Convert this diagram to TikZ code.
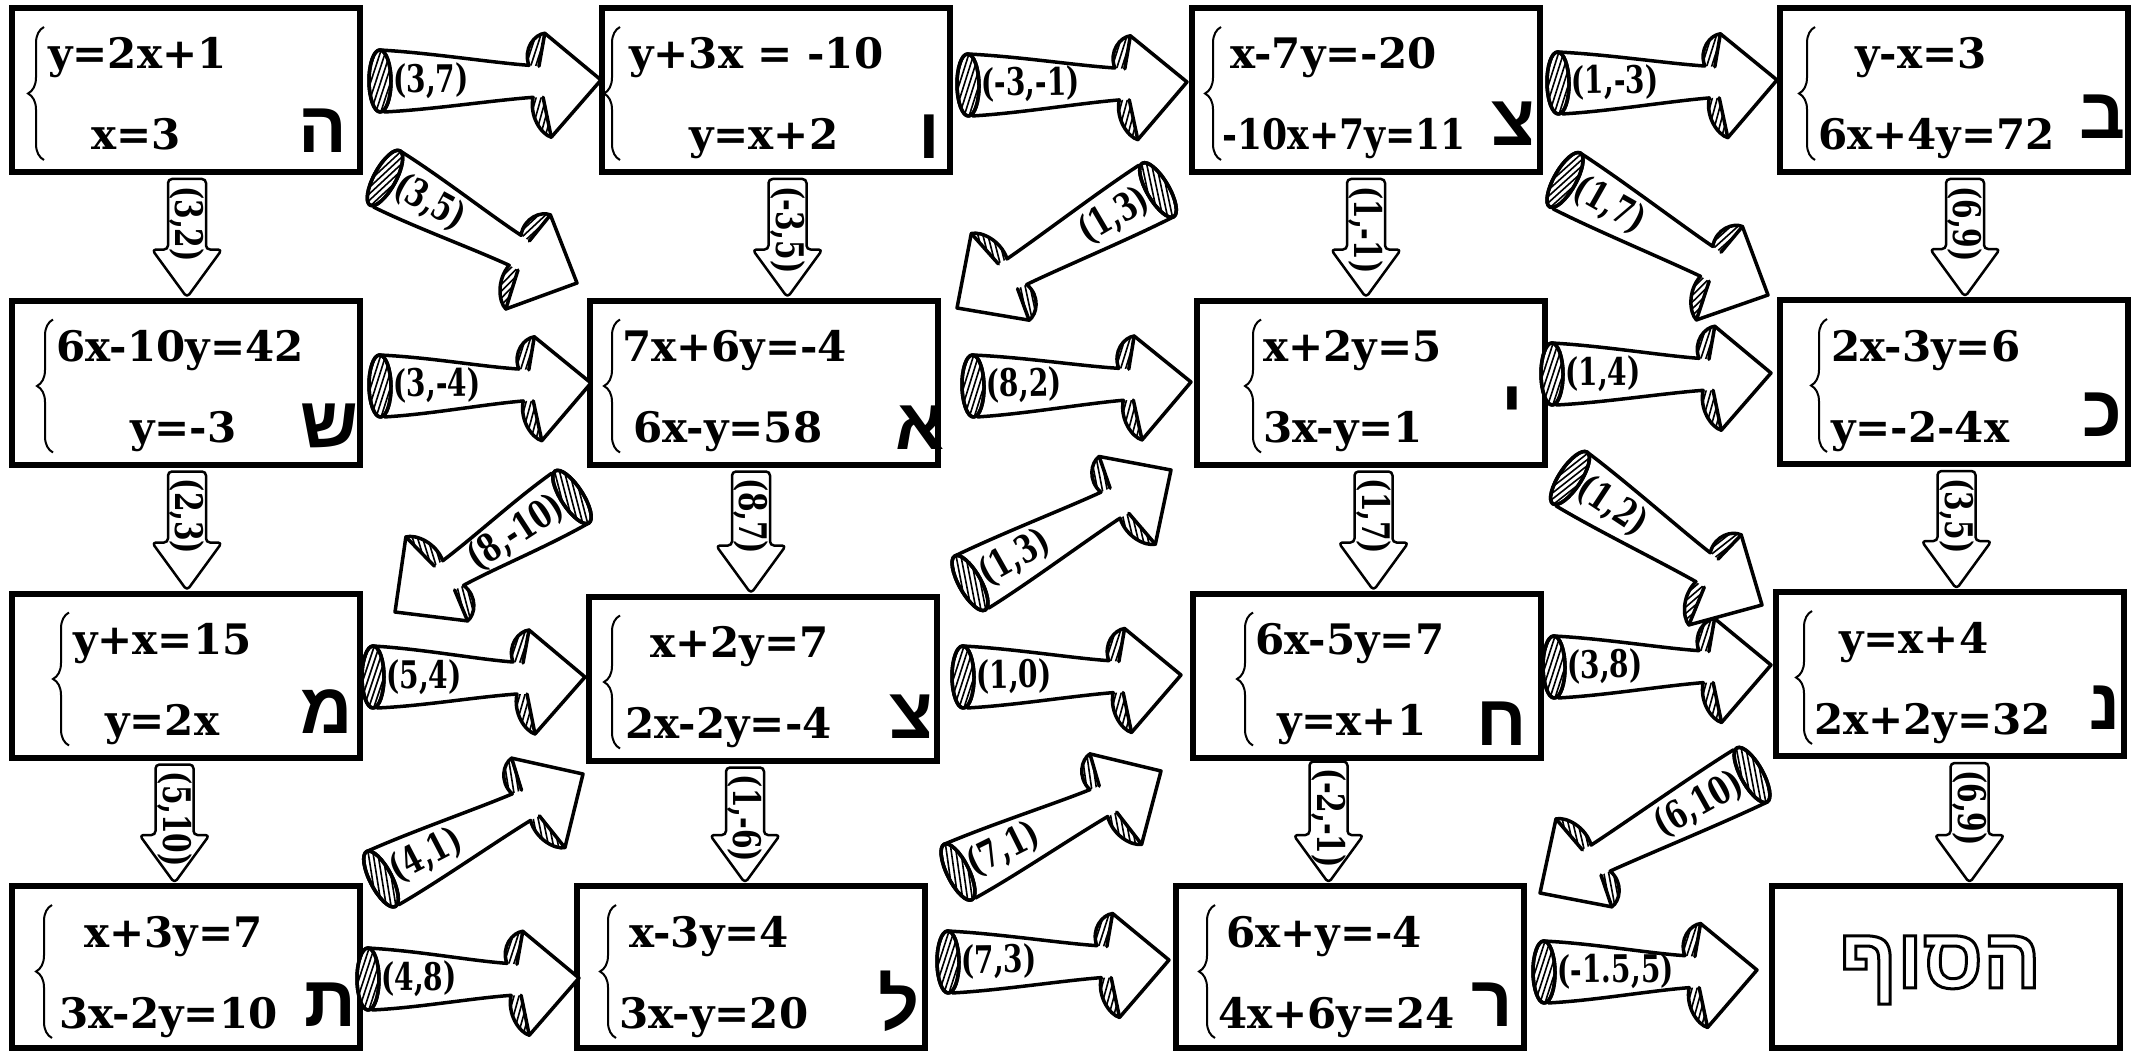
\documentclass[tikz,border=0pt]{standalone}
\usepackage{fontspec}
\setmainfont{DejaVu Serif}
\newfontfamily\hebfont[Script=Hebrew]{Liberation Sans}
\usetikzlibrary{calc,decorations.pathreplacing}
\TeXXeTstate=1
\newcommand\eqf{\fontsize{42}{42}\selectfont\bfseries}
\newcommand\labf{\fontsize{38}{38}\selectfont\bfseries}
\newcommand\hebf{\hebfont\fontsize{72}{72}\selectfont\bfseries}
\newcommand\finf{\hebfont\fontsize{86}{86}\selectfont\bfseries}
\newcommand\outlined[1]{\special{pdf:literal direct 1 Tr 3 w}#1\special{pdf:literal direct 0 Tr}}
\tikzset{
  box/.style={draw, line width=6pt, minimum width=348pt, minimum height=164pt, inner sep=0pt},
  eq/.style={anchor=base west, inner sep=0pt, font=\eqf},
  heb/.style={inner sep=0pt, font=\hebf},
  bracestyle/.style={decorate, decoration={brace, amplitude=16pt}, line width=2pt},
  varrow/.style={draw, line width=2.5pt, fill=white, rounded corners=4pt, line join=round},
  vlab/.style={inner sep=0pt, font=\labf, rotate=-90, anchor=west},
  skline/.style={line width=3.5pt, line join=round, line cap=round},
  sklab/.style={inner sep=0pt, font=\labf, transform shape},
  hatch/.style={line width=1.6pt}
}
% equations of one box: box, brace x, x of line 1, line 1, x of line 2, line 2
\newcommand\eqs[6]{%
  \draw[bracestyle] let \p1=(#1.north) in (#2pt,\y1-155pt) -- (#2pt,\y1-22pt);
  \path let \p1=(#1.north) in node[eq] (#1-a) at (#3pt,\y1-64pt) {#4};
  \path let \p1=(#1.north) in node[eq] (#1-b) at (#5pt,\y1-145pt) {#6};
}
% simple down arrow: start coordinate, lower box, label
\newcommand\vdown[3]{%
  \coordinate (#1t) at (#2.north -| #1);
  \draw[varrow] ($(#1t)+(-19,-48)$) -- ($(#1)+(-19,0)$) -- ($(#1)+(19,0)$) -- ($(#1t)+(19,-48)$)
     -- ($(#1t)+(35,-48)$) -- (#1t) -- ($(#1t)+(-35,-48)$) -- cycle;
  \node[vlab] (#1-l) at ($(#1)+(0,7)$) {\scalebox{0.74}[1]{#3}};
}
% sketchy ribbon arrow: tail coordinate, tip coordinate, label
\newcommand\skarrow[3]{%
  \pgfpointdiff{\pgfpointanchor{#1}{center}}{\pgfpointanchor{#2}{center}}%
  \pgfgetlastxy{\skdx}{\skdy}%
  \pgfmathsetmacro\skang{atan2(\skdy,\skdx)}%
  \pgfmathsetmacro\skL{veclen(\skdx,\skdy)}%
  \pgfmathtruncatemacro\skflip{abs(\skang)>90}%
  \begin{scope}[shift={(#1)}, rotate=\skang, x=1pt, y=1pt]
    \draw[skline, fill=white] (0,31) .. controls (50,28) and ({\skL-110},18) .. ({\skL-72},15)
       .. controls ({\skL-78},32) and ({\skL-66},46) .. ({\skL-56},47)
       -- (\skL,0) -- ({\skL-50},-57)
       .. controls ({\skL-60},-54) and ({\skL-72},-36) .. ({\skL-68},-17)
       .. controls ({\skL-110},-20) and (50,-29) .. (4,-31) -- cycle;
    \begin{scope}
      \clip ({\skL-72},15) .. controls ({\skL-78},32) and ({\skL-66},46) .. ({\skL-56},47) -- ({\skL-62},14) -- cycle;
      \foreach \hk in {0,5,...,55} \draw[hatch] ({\skL-100+\hk},0) -- ({\skL-80+\hk},60);
    \end{scope}
    \begin{scope}
      \clip ({\skL-68},-17) .. controls ({\skL-72},-36) and ({\skL-60},-54) .. ({\skL-50},-57) -- ({\skL-58},-17) -- cycle;
      \foreach \hk in {0,5,...,55} \draw[hatch] ({\skL-100+\hk},-70) -- ({\skL-80+\hk},0);
    \end{scope}
    \draw[skline] ({\skL-56},47) -- ({\skL-62},14);
    \draw[skline] ({\skL-50},-57) -- ({\skL-58},-17);
    \draw[skline, fill=white] (0,0) ellipse [x radius=11, y radius=31];
    \begin{scope}
      \clip (0,0) ellipse [x radius=11, y radius=31];
      \foreach \hk in {-40,-35,...,20} \draw[hatch] (\hk,-33) -- (\hk+22,33);
    \end{scope}
    \draw[skline] (0,0) ellipse [x radius=11, y radius=31];
    \ifnum\skflip=1
      \node[sklab, rotate=180, anchor=east] (#1-l) at (13,0) {\scalebox{0.74}[1]{#3}};
    \else
      \node[sklab, anchor=west] (#1-l) at (13,0) {\scalebox{0.74}[1]{#3}};
    \fi
  \end{scope}}

\begin{document}
\begin{tikzpicture}[x=1pt,y=-1pt]
\useasboundingbox (0,0) rectangle (2136,1051);
\fill[white] (0,0) rectangle (2136,1051);

% boxes
\node[box] (b11) at (186,90) {};
\node[box] (b12) at (775.5,90) {};
\node[box] (b13) at (1366,90) {};
\node[box] (b14) at (1954,90) {};
\node[box] (b21) at (186,382.5) {};
\node[box] (b22) at (764,382.5) {};
\node[box] (b23) at (1370.5,382.5) {};
\node[box] (b24) at (1953.5,382) {};
\node[box] (b31) at (185.5,675.5) {};
\node[box] (b32) at (763,678.5) {};
\node[box] (b33) at (1366.5,675.5) {};
\node[box] (b34) at (1949.5,674) {};
\node[box, minimum height=162pt] (b41) at (186,967) {};
\node[box, minimum height=162pt] (b42) at (751,967) {};
\node[box, minimum height=162pt] (b43) at (1350,967) {};
\node[box, minimum height=162pt] (b44) at (1945.5,967) {};

% equations
\eqs{b11}{44}{48}{y=2x+1}{91}{x=3}
\eqs{b12}{620}{629}{y+3x = -10}{689}{y=x+2}
\eqs{b13}{1221}{1230}{x-7y=-20}{1222}{\scalebox{0.86}[1]{-10x+7y=11}}
\eqs{b14}{1815}{1855}{y-x=3}{1818}{6x+4y=72}
\eqs{b21}{53}{56}{6x-10y=42}{130}{y=-3}
\eqs{b22}{620}{622}{7x+6y=-4}{633}{6x-y=58}
\eqs{b23}{1261}{1263}{x+2y=5}{1263}{3x-y=1}
\eqs{b24}{1827}{1831}{2x-3y=6}{1831}{y=-2-4x}
\eqs{b31}{69}{73}{y+x=15}{105}{y=2x}
\eqs{b32}{620}{650}{x+2y=7}{625}{2x-2y=-4}
\eqs{b33}{1253}{1255}{6x-5y=7}{1277}{y=x+1}
\eqs{b34}{1812}{1839}{y=x+4}{1814}{2x+2y=32}
\eqs{b41}{52}{84}{x+3y=7}{59}{3x-2y=10}
\eqs{b42}{616}{629}{x-3y=4}{619}{3x-y=20}
\eqs{b43}{1215}{1226}{6x+y=-4}{1218}{4x+6y=24}

% letters
\node[heb] (b11-h) at (323,131) {ה};
\node[heb] (b12-h) at (929,137) {ו};
\node[heb] (b13-h) at (1513,124) {צ};
\node[heb] (b14-h) at (2103,117) {ב};
\node[heb] (b21-h) at (329,426) {ש};
\node[heb] (b22-h) at (920,428) {א};
\node[heb] (b23-h) at (1512,409) {י};
\node[heb] (b24-h) at (2102,415) {כ};
\node[heb] (b31-h) at (327,712) {מ};
\node[heb] (b32-h) at (911,717) {צ};
\node[heb] (b33-h) at (1502,724) {ח};
\node[heb] (b34-h) at (2105,708) {נ};
\node[heb] (b41-h) at (330,1005) {ת};
\node[heb] (b42-h) at (899,1001) {ל};
\node[heb] (b43-h) at (1492,1005) {ר};

% outlined end word
\node[inner sep=0pt, font=\finf] (fin) at (1940,970) {\outlined{\beginR הסוף\endR}};

% vertical arrows
\coordinate (v1) at ($(b11.south)+(1,4)$);   \vdown{v1}{b21}{(3,2)}
\coordinate (v2) at ($(b12.south)+(12,4)$);  \vdown{v2}{b22}{(-3,5)}
\coordinate (v3) at ($(b13.south)+(0,4)$);   \vdown{v3}{b23}{(1,-1)}
\coordinate (v4) at ($(b14.south)+(11,4)$);  \vdown{v4}{b24}{(6,9)}
\coordinate (v5) at ($(b21.south)+(1,4)$);   \vdown{v5}{b31}{(2,3)}
\coordinate (v6) at ($(b22.south)+(-13,4)$); \vdown{v6}{b32}{(8,7)}
\coordinate (v7) at ($(b23.south)+(3,4)$);   \vdown{v7}{b33}{(1,7)}
\coordinate (v8) at ($(b24.south)+(3,4)$);   \vdown{v8}{b34}{(3,5)}
\coordinate (v9) at ($(b31.south)+(-11,4)$); \vdown{v9}{b41}{(5,10)}
\coordinate (v10) at ($(b32.south)+(-18,4)$); \vdown{v10}{b42}{(1,-6)}
\coordinate (v11) at ($(b33.south)+(-38,1)$); \vdown{v11}{b43}{(-2,-1)}
\coordinate (v12) at ($(b34.south)+(20,4)$);  \vdown{v12}{b44}{(6,9)}

% sketchy arrows: tails and tips
\coordinate (s1) at (380,81);    \coordinate (t1) at (601,80);
\coordinate (s2) at (968,85);    \coordinate (t2) at (1187,82);
\coordinate (s3) at (1558,83);   \coordinate (t3) at (1777,80);
\coordinate (s4) at (380,386);   \coordinate (t4) at (591,383);
\coordinate (s5) at (973,386);   \coordinate (t5) at (1191,382);
\coordinate (s6) at (1552,374);  \coordinate (t6) at (1771,373);
\coordinate (s7) at (373,677);   \coordinate (t7) at (585,677);
\coordinate (s8) at (963,677);   \coordinate (t8) at (1181,675);
\coordinate (s9) at (1554,667);  \coordinate (t9) at (1771,665);
\coordinate (s10) at (368,979);  \coordinate (t10) at (579,978);
\coordinate (s11) at (948,962);  \coordinate (t11) at (1169,960);
\coordinate (s12) at (1544,972); \coordinate (t12) at (1757,970);
\coordinate (d1) at (385,178);   \coordinate (e1) at (577,283);
\coordinate (d2) at (1158,190);  \coordinate (e2) at (957,308);
\coordinate (d3) at (1565,180);  \coordinate (e3) at (1768,295);
\coordinate (d4) at (572,497);   \coordinate (e4) at (395,612);
\coordinate (d5) at (970,583);   \coordinate (e5) at (1171,470);
\coordinate (d6) at (1570,478);  \coordinate (e6) at (1762,605);
\coordinate (d7) at (381,879);   \coordinate (e7) at (583,774);
\coordinate (d8) at (958,872);   \coordinate (e8) at (1161,771);
\coordinate (d9) at (1752,775);  \coordinate (e9) at (1540,893);

\skarrow{s1}{t1}{(3,7)}
\skarrow{s2}{t2}{(-3,-1)}
\skarrow{s3}{t3}{(1,-3)}
\skarrow{s4}{t4}{(3,-4)}
\skarrow{s5}{t5}{(8,2)}
\skarrow{s6}{t6}{(1,4)}
\skarrow{s7}{t7}{(5,4)}
\skarrow{s8}{t8}{(1,0)}
\skarrow{s9}{t9}{(3,8)}
\skarrow{s10}{t10}{(4,8)}
\skarrow{s11}{t11}{(7,3)}
\skarrow{s12}{t12}{(-1.5,5)}
\skarrow{d1}{e1}{(3,5)}
\skarrow{d2}{e2}{(1,3)}
\skarrow{d3}{e3}{(1,7)}
\skarrow{d4}{e4}{(8,-10)}
\skarrow{d5}{e5}{(1,3)}
\skarrow{d6}{e6}{(1,2)}
\skarrow{d7}{e7}{(4,1)}
\skarrow{d8}{e8}{(7,1)}
\skarrow{d9}{e9}{(6,10)}
\end{tikzpicture}
\end{document}
